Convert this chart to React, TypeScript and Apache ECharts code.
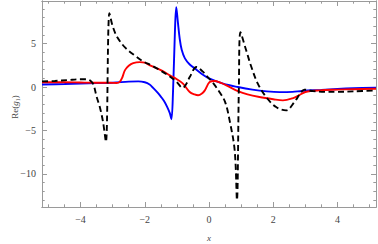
import React, { useEffect, useRef } from "react";
import * as echarts from "echarts";

const X_MIN = -5.2;
const X_MAX = 5.2;
const Y_MIN = -13.8;
const Y_MAX = 9.9;

const xMajor = [-4, -2, 0, 2, 4];
const xMinor = [-5, -4.5, -3.5, -3, -2.5, -1.5, -1, -0.5, 0.5, 1, 1.5, 2.5, 3, 3.5, 4.5, 5];
const yMajor = [-10, -5, 0, 5];
const yMinor = [-13, -12, -11, -9, -8, -7, -6, -4, -3, -2, -1, 1, 2, 3, 4, 6, 7, 8, 9];

const blueX = [-5.2, -4.5, -4, -3.5, -3, -2.5, -2.2, -2.0, -1.85, -1.74, -1.6, -1.5, -1.4, -1.3, -1.22, -1.17, -1.12, -1.06, -1.02, -0.97, -0.91, -0.85, -0.75, -0.6, -0.39, -0.2, 0.02, 0.44, 0.9, 1.35, 1.8, 2.2, 2.6, 2.9, 3.5, 4.0, 4.5, 5.2];
const blueY = [0.3, 0.35, 0.4, 0.45, 0.5, 0.62, 0.65, 0.55, 0.3, -0.1, -0.65, -1.1, -1.6, -2.3, -3.0, -3.7, -0.5, 6.5, 9.2, 7.5, 5.5, 4.3, 3.3, 2.6, 2.0, 1.45, 0.96, 0.39, 0.0, -0.3, -0.5, -0.58, -0.55, -0.45, -0.33, -0.22, -0.14, -0.07];

const redX = [-5.2, -4.5, -4, -3.5, -3.09, -2.88, -2.78, -2.7, -2.62, -2.5, -2.36, -2.15, -2.0, -1.84, -1.5, -1.22, -1.0, -0.81, -0.6, -0.45, -0.34, -0.22, -0.13, 0.02, 0.18, 0.35, 0.54, 0.9, 1.2, 1.57, 2.0, 2.3, 2.6, 2.8, 3.0, 3.44, 4.0, 4.5, 5.2];
const redY = [0.55, 0.55, 0.52, 0.5, 0.5, 0.47, 0.6, 1.1, 1.92, 2.45, 2.76, 2.87, 2.8, 2.5, 1.95, 1.35, 0.9, 0.39, -0.57, -0.85, -0.95, -0.75, -0.38, 0.57, 0.69, 0.5, 0.2, -0.46, -0.85, -1.15, -1.4, -1.53, -1.3, -0.95, -0.57, -0.38, -0.3, -0.25, -0.2];

const blackX = [-5.2, -4.8, -4.4, -4.0, -3.8, -3.7, -3.6, -3.5, -3.4, -3.3, -3.21, -3.1, -3.0, -2.85, -2.6, -2.3, -2.05, -1.8, -1.53, -1.25, -1.01, -0.82, -0.7, -0.6, -0.39, -0.2, -0.08, 0.12, 0.33, 0.5, 0.64, 0.8, 0.87, 0.93, 0.98, 1.16, 1.32, 1.52, 1.78, 2.09, 2.4, 2.66, 2.87, 2.97, 3.23, 3.6, 4.0, 4.5, 5.2];
const blackY = [0.65, 0.7, 0.8, 0.9, 0.9, 0.75, 0.3, -1.1, -2.3, -4.0, -6.3, 8.5, 7.0, 5.7, 4.5, 3.6, 2.95, 2.5, 1.95, 1.3, 0.6, -0.1, 0.4, 1.15, 2.3, 1.8, 1.3, 0.5, -0.6, -1.7, -3.8, -7.3, -13.0, 0.0, 6.3, 4.2, 2.3, 0.4, -1.15, -2.3, -2.68, -1.72, -0.57, -0.3, -0.46, -0.55, -0.55, -0.5, -0.4];

const zip = (xs: number[], ys: number[]) => xs.map((x, i) => [x, ys[i]]);
const fmt = (v: number) => String(v).replace("-", "\u2212");

const FRAME = "#9a9a9a";
const LABEL = "#444";
const SERIF = "'Liberation Serif', 'DejaVu Serif', serif";

function makeX(position: "bottom" | "top", ticks: number[], len: number, labels: boolean) {
  return {
    type: "value",
    position,
    min: X_MIN,
    max: X_MAX,
    axisLine: { show: true, onZero: false, lineStyle: { color: FRAME, width: 1 } },
    axisTick: { show: true, inside: true, length: len, customValues: ticks, lineStyle: { color: FRAME, width: 1 } },
    axisLabel: labels
      ? { show: true, customValues: ticks, formatter: fmt, color: LABEL, fontFamily: SERIF, fontSize: 10, margin: 7 }
      : { show: false },
    splitLine: { show: false },
  };
}

function makeY(position: "left" | "right", ticks: number[], len: number, labels: boolean) {
  return {
    type: "value",
    position,
    min: Y_MIN,
    max: Y_MAX,
    axisLine: { show: true, onZero: false, lineStyle: { color: FRAME, width: 1 } },
    axisTick: { show: true, inside: true, length: len, customValues: ticks, lineStyle: { color: FRAME, width: 1 } },
    axisLabel: labels
      ? { show: true, customValues: ticks, formatter: fmt, color: LABEL, fontFamily: SERIF, fontSize: 10, margin: 6 }
      : { show: false },
    splitLine: { show: false },
  };
}

export default function App() {
  const ref = useRef<HTMLDivElement>(null);
  useEffect(() => {
    if (!ref.current) return;
    const chart = echarts.init(ref.current, null, { renderer: "svg" });
    chart.setOption({
      animation: false,
      backgroundColor: "#ffffff",
      grid: { left: 42, right: 2, top: 1, bottom: 37 },
      xAxis: [
        makeX("bottom", xMajor, 5, true),
        makeX("bottom", xMinor, 2.7, false),
        makeX("top", xMajor, 5, false),
        makeX("top", xMinor, 2.7, false),
      ],
      yAxis: [
        makeY("left", yMajor, 5, true),
        makeY("left", yMinor, 2.7, false),
        makeY("right", yMajor, 5, false),
        makeY("right", yMinor, 2.7, false),
      ],
      graphic: [
        {
          type: "text",
          x: 15,
          y: 107,
          rotation: Math.PI / 2,
          style: {
            text: "{a|Re(}{b|g}{a|\u2081)}",
            rich: {
              a: { fontFamily: SERIF, fontSize: 9, fill: LABEL },
              b: { fontFamily: SERIF, fontSize: 9, fontStyle: "italic", fill: LABEL },
            },
            align: "center",
            verticalAlign: "middle",
          },
        },
        {
          type: "text",
          x: 209,
          y: 238,
          style: {
            text: "x",
            fontFamily: SERIF,
            fontSize: 9,
            fontStyle: "italic",
            fill: LABEL,
            align: "center",
            verticalAlign: "middle",
          },
        },
      ],
      series: [
        {
          type: "line",
          name: "blue",
          data: zip(blueX, blueY),
          showSymbol: false,
          smooth: 0.35,
          lineStyle: { color: "#0000ff", width: 1.9 },
          z: 3,
        },
        {
          type: "line",
          name: "red",
          data: zip(redX, redY),
          showSymbol: false,
          smooth: 0.35,
          lineStyle: { color: "#ff0000", width: 1.9 },
          z: 4,
        },
        {
          type: "line",
          name: "black",
          data: zip(blackX, blackY),
          showSymbol: false,
          smooth: 0.35,
          lineStyle: { color: "#000000", width: 1.9, type: [6, 3.5] },
          z: 5,
        },
      ],
    });
    return () => chart.dispose();
  }, []);
  return (
    <div
      ref={ref}
      style={{ position: "absolute", left: 0, top: 0, width: 378, height: 244 }}
    />
  );
}
